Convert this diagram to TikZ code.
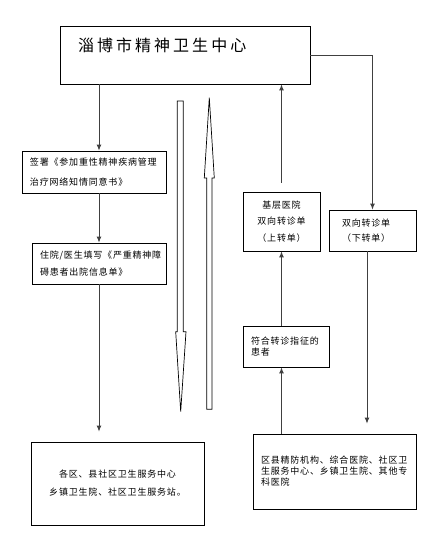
\documentclass[tikz,border=0pt]{standalone}
\usepackage{fontspec}
\newfontfamily\cjk[LetterSpace=9]{Noto Sans CJK SC}
\newfontfamily\cjktitle[LetterSpace=19]{Noto Sans CJK SC}
\usetikzlibrary{arrows.meta}

\tikzset{
  box/.style={draw, line width=0.7pt, inner xsep=8pt, inner ysep=0pt,
    font=\cjk\fontsize{9}{17}\selectfont},
  arr/.style={draw=black!75, line width=1pt, -{Latex[length=6pt,width=5pt]}},
  hollow/.style={draw, line width=0.7pt},
}

\begin{document}
\begin{tikzpicture}[x=1pt,y=-1pt]
    \useasboundingbox (0,0) rectangle (444,550);

    \node[box, minimum width=250pt, minimum height=58pt, text width=214pt, inner xsep=18pt,
          align=left, text height=12pt, text depth=19pt,
          font=\cjktitle\fontsize{16}{16}\selectfont] (center) at (185,55) {淄博市精神卫生中心};
    \node[box, minimum width=144pt, minimum height=42pt, text width=128pt, align=left,
          font=\cjk\fontsize{9}{20}\selectfont] (sign) at (94,172)
          {签署《参加重性精神疾病管理\\治疗网络知情同意书》};
    \node[box, minimum width=134pt, minimum height=41pt, text width=118pt, align=left] (discharge) at (99,263.5)
          {住院/医生填写《严重精神障\\碍患者出院信息单》};
    \node[box, minimum width=173pt, minimum height=83pt, text width=157pt, align=center,
          font=\cjk\fontsize{9}{18}\selectfont] (community) at (117.5,483.5)
          {各区、县社区卫生服务中心\\乡镇卫生院、社区卫生服务站。};
    \node[box, minimum width=77pt, minimum height=59pt, text width=61pt, align=center,
          font=\cjk\fontsize{9}{16.5}\selectfont] (upper) at (281.5,221.5)
          {基层医院\\双向转诊单\\（上转单）};
    \node[box, minimum width=87pt, minimum height=41pt, text width=61pt, inner xsep=13pt, align=left,
          font=\cjk\fontsize{9}{15}\selectfont] (lower) at (372.5,230.5)
          {双向转诊单\\（下转单）};
    \node[box, minimum width=86pt, minimum height=41pt, text width=70pt, align=left,
          font=\cjk\fontsize{9}{11}\selectfont] (patient) at (286,346.5)
          {符合转诊指征的\\患者};
    \node[box, minimum width=163pt, minimum height=75pt, text width=147pt, align=left,
          font=\cjk\fontsize{9}{11}\selectfont] (county) at (334.5,471.5)
          {区县精防机构、综合医院、社区卫\\生服务中心、乡镇卫生院、其他专\\科医院};

    % downward chain
    \draw[arr] (center.south -| discharge.north) -- (discharge.north |- sign.north);
    \draw[arr] (sign.south -| discharge.north) -- (discharge.north);
    \draw[arr, shorten >=10pt] (discharge.south) -- (discharge.south |- community.north);

    % referral loop
    \draw[arr] (center.east) -| (lower.north);
    \draw[arr, shorten >=10pt] ([xshift=-5.5pt]lower.south) -- ([xshift=-5.5pt]lower.south |- county.north);
    \draw[arr] (county.north -| upper.south) -- (patient.south -| upper.south);
    \draw[arr] (patient.north -| upper.south) -- (upper.south);
    \draw[arr, shorten <=9pt] (upper.north) -- (upper.north |- center.south);

    % hollow arrows
    \draw[hollow] (177.3,101) -- (183.3,101) -- (183.3,331.7) -- (186,331.7)
        -- (180.7,411.7) -- (175.7,331.7) -- (177.3,331.7) -- cycle;
    \draw[hollow] (209.3,97.7) -- (214.3,178) -- (212,178) -- (212,409.3)
        -- (206.7,409.3) -- (206.7,178) -- (204.3,178) -- cycle;
\end{tikzpicture}
\end{document}
